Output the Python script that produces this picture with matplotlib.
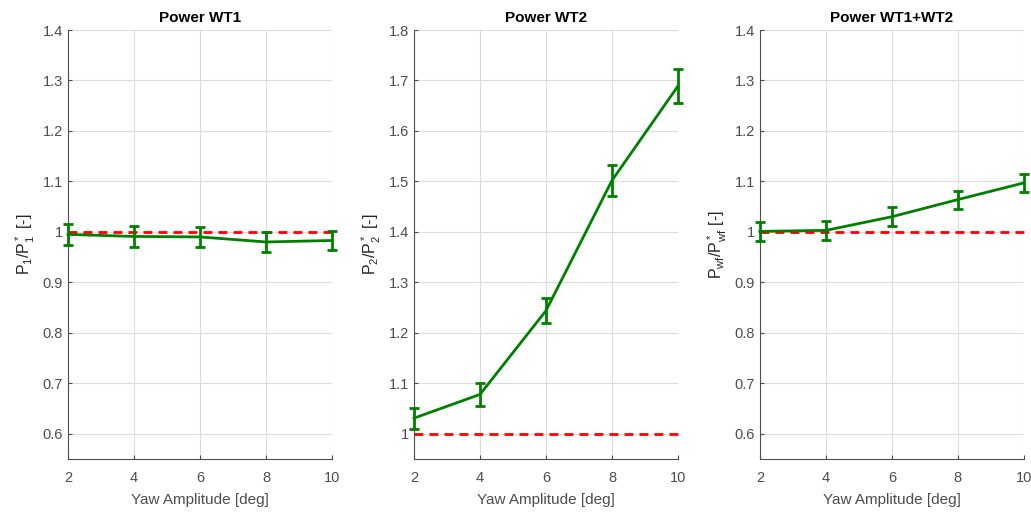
import matplotlib
matplotlib.use("Agg")
import matplotlib.pyplot as plt

plt.rcParams['font.family'] = ['Liberation Sans', 'DejaVu Sans']
plt.rcParams['mathtext.fontset'] = 'custom'
plt.rcParams['mathtext.rm'] = 'Liberation Sans'

yaw_amp = [2, 4, 6, 8, 10]

p1_ratio = [0.995, 0.991, 0.990, 0.980, 0.983]
p1_err = [0.020, 0.020, 0.019, 0.020, 0.019]

p2_ratio = [1.031, 1.078, 1.244, 1.502, 1.689]
p2_err = [0.021, 0.022, 0.025, 0.031, 0.034]

pwf_ratio = [1.001, 1.003, 1.030, 1.064, 1.097]
pwf_err = [0.019, 0.019, 0.019, 0.018, 0.018]

titles = ['Power WT1', 'Power WT2', 'Power WT1+WT2']
ylabels = [r'$\mathregular{P_1/P_1^*}$ [-]',
           r'$\mathregular{P_2/P_2^*}$ [-]',
           r'$\mathregular{P_{wf}/P_{wf}^*}$ [-]']
ylims = [(0.55, 1.4), (0.95, 1.8), (0.55, 1.4)]
yticks = [[0.6, 0.7, 0.8, 0.9, 1, 1.1, 1.2, 1.3, 1.4],
          [1, 1.1, 1.2, 1.3, 1.4, 1.5, 1.6, 1.7, 1.8],
          [0.6, 0.7, 0.8, 0.9, 1, 1.1, 1.2, 1.3, 1.4]]
ytick_labels = [['0.6', '0.7', '0.8', '0.9', '1', '1.1', '1.2', '1.3', '1.4'],
                ['1', '1.1', '1.2', '1.3', '1.4', '1.5', '1.6', '1.7', '1.8'],
                ['0.6', '0.7', '0.8', '0.9', '1', '1.1', '1.2', '1.3', '1.4']]
baseline = [1, 1, 1, 1, 1]

series = [(p1_ratio, p1_err), (p2_ratio, p2_err), (pwf_ratio, pwf_err)]

fig = plt.figure(figsize=(10.31, 5.12), dpi=100)
lefts = [0.066, 0.4016, 0.737]
label_color = '#262626'
tick_color = '#4d4d4d'

for i in range(3):
    ax = fig.add_axes([lefts[i], 0.1035, 0.256, 0.8379])
    vals, errs = series[i]
    ax.plot(yaw_amp, baseline, '--', color='#ff0000', lw=2, dashes=(3.2, 2.2),
            zorder=2, clip_on=False)
    eb = ax.errorbar(yaw_amp, vals, yerr=errs, color='#008000', lw=2,
                     capsize=3.4, capthick=2, elinewidth=2, zorder=3)
    for artist in [eb.lines[0]] + list(eb.lines[1]) + list(eb.lines[2]):
        artist.set_clip_on(False)
    ax.set_xlim(2, 10)
    ax.set_ylim(*ylims[i])
    ax.set_xticks(yaw_amp)
    ax.set_xticklabels([str(v) for v in yaw_amp])
    ax.set_yticks(yticks[i])
    ax.set_yticklabels(ytick_labels[i])
    ax.grid(True, color='#dcdcdc', lw=0.8)
    ax.set_axisbelow(True)
    for s in ['top', 'right']:
        ax.spines[s].set_visible(False)
    for s in ['left', 'bottom']:
        ax.spines[s].set_color(tick_color)
        ax.spines[s].set_linewidth(0.8)
    ax.tick_params(direction='in', length=3, colors=tick_color, labelsize=10.5,
                   labelcolor=tick_color)
    ax.tick_params(axis='x', pad=8.5)
    ax.set_title(titles[i], fontsize=11, fontweight='bold', color='black', pad=6)
    ax.set_xlabel('Yaw Amplitude [deg]', fontsize=11, color=tick_color, labelpad=6)
    ax.set_ylabel(ylabels[i], fontsize=11.5, color=label_color, labelpad=4)

fig.savefig('out.png', dpi=100, facecolor='white')
